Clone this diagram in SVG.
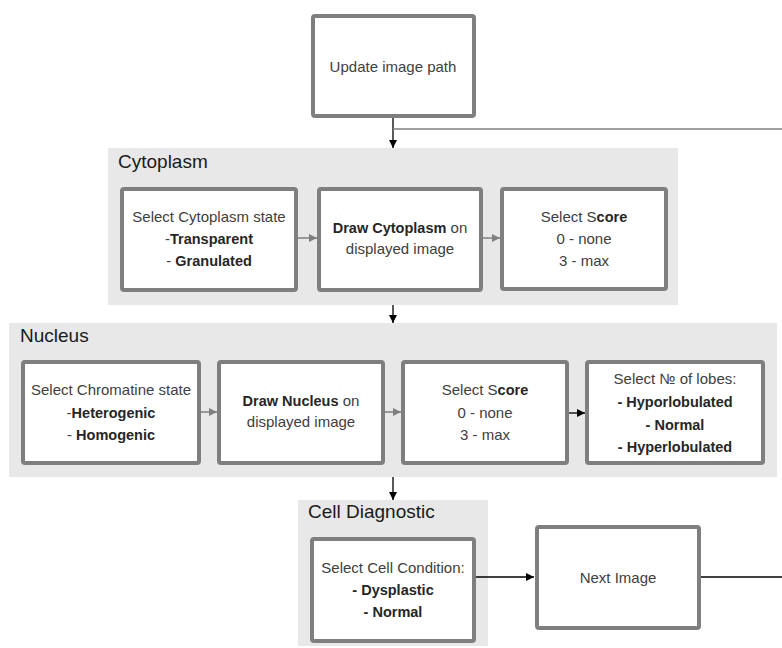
<svg xmlns="http://www.w3.org/2000/svg" width="782" height="648" viewBox="0 0 782 648">
<style>
.grp{fill:#e8e8e8;stroke:none}
.box{fill:#ffffff;stroke:#7f7f7f;stroke-width:4}
.t{font-family:"Liberation Sans",Arial,sans-serif;font-size:15px;fill:#404040;text-anchor:middle}
.b{font-weight:bold;fill:#262626;font-size:14.5px}
.lbl{font-family:"Liberation Sans",Arial,sans-serif;font-size:19px;fill:#1a1a1a}
.cb{stroke:#000;stroke-width:1.3;fill:none}
.cg{stroke:#7f7f7f;stroke-width:1.5;fill:none}
</style>
<defs>
<marker id="ab" viewBox="0 0 10 10" refX="10" refY="5" markerWidth="8" markerHeight="8" markerUnits="userSpaceOnUse" orient="auto"><path d="M0,0 L10,5 L0,10 z" fill="#000"/></marker>
<marker id="ag" viewBox="0 0 10 10" refX="10" refY="5" markerWidth="8" markerHeight="8" markerUnits="userSpaceOnUse" orient="auto"><path d="M0,0 L10,5 L0,10 z" fill="#7f7f7f"/></marker>
</defs>

<g id="group-cytoplasm">
<rect class="grp" x="108" y="148" width="570" height="157"/>
<text class="lbl" x="118" y="168">Cytoplasm</text>
</g>
<g id="group-nucleus">
<rect class="grp" x="9" y="323" width="768" height="154"/>
<text class="lbl" x="20" y="342">Nucleus</text>
</g>
<g id="group-cell">
<rect class="grp" x="298" y="500" width="190" height="146"/>
<text class="lbl" x="308" y="518">Cell Diagnostic</text>
</g>

<g id="connectors">
<line class="cb" x1="393" y1="117" x2="393" y2="148" marker-end="url(#ab)"/>
<line class="cg" x1="393" y1="129" x2="782" y2="129"/>
<line class="cg" x1="298" y1="238" x2="317" y2="238" marker-end="url(#ag)"/>
<line class="cg" x1="483" y1="238" x2="500" y2="238" marker-end="url(#ag)"/>
<line class="cb" x1="393" y1="305" x2="393" y2="323" marker-end="url(#ab)"/>
<line class="cg" x1="201" y1="412" x2="217" y2="412" marker-end="url(#ag)"/>
<line class="cg" x1="385" y1="412" x2="401" y2="412" marker-end="url(#ag)"/>
<line class="cb" x1="569" y1="413" x2="585" y2="413" marker-end="url(#ab)"/>
<line class="cb" x1="393" y1="477" x2="393" y2="500" marker-end="url(#ab)"/>
<line class="cb" x1="476" y1="577" x2="534" y2="577" marker-end="url(#ab)"/>
<line class="cb" x1="701" y1="577" x2="782" y2="577"/>
</g>

<g id="node-update">
<rect class="box" x="313" y="16" width="161" height="100" rx="2"/>
<text class="t" x="393" y="72">Update image path</text>
</g>

<g id="node-cyto-state">
<rect class="box" x="122" y="189" width="174" height="101" rx="2"/>
<text class="t" x="209" y="222">Select Cytoplasm state</text>
<text class="t" x="209" y="244">-<tspan class="b">Transparent</tspan></text>
<text class="t" x="209" y="266">- <tspan class="b">Granulated</tspan></text>
</g>
<g id="node-cyto-draw">
<rect class="box" x="319" y="189" width="162" height="101" rx="2"/>
<text class="t" x="400" y="233"><tspan class="b">Draw Cytoplasm</tspan> on</text>
<text class="t" x="400" y="254">displayed image</text>
</g>
<g id="node-cyto-score">
<rect class="box" x="502" y="189" width="164" height="100" rx="2"/>
<text class="t" x="584" y="222">Select S<tspan class="b">core</tspan></text>
<text class="t" x="584" y="244">0 - none</text>
<text class="t" x="584" y="266">3 - max</text>
</g>

<g id="node-chromatine">
<rect class="box" x="23" y="362" width="176" height="101" rx="2"/>
<text class="t" x="111" y="395">Select Chromatine state</text>
<text class="t" x="111" y="418">-<tspan class="b">Heterogenic</tspan></text>
<text class="t" x="111" y="440">- <tspan class="b">Homogenic</tspan></text>
</g>
<g id="node-nucleus-draw">
<rect class="box" x="219" y="362" width="164" height="101" rx="2"/>
<text class="t" x="301" y="406"><tspan class="b">Draw Nucleus</tspan> on</text>
<text class="t" x="301" y="427">displayed image</text>
</g>
<g id="node-nucleus-score">
<rect class="box" x="403" y="362" width="164" height="101" rx="2"/>
<text class="t" x="485" y="395">Select S<tspan class="b">core</tspan></text>
<text class="t" x="485" y="418">0 - none</text>
<text class="t" x="485" y="440">3 - max</text>
</g>
<g id="node-lobes">
<rect class="box" x="587" y="362" width="176" height="101" rx="2"/>
<text class="t" x="675" y="384">Select № of lobes:</text>
<text class="t b" x="675" y="407">- Hyporlobulated</text>
<text class="t b" x="675" y="430">- Normal</text>
<text class="t b" x="675" y="452">- Hyperlobulated</text>
</g>

<g id="node-cell-condition">
<rect class="box" x="312" y="539" width="162" height="102" rx="2"/>
<text class="t" x="393" y="573">Select Cell Condition:</text>
<text class="t b" x="393" y="595">- Dysplastic</text>
<text class="t b" x="393" y="617">- Normal</text>
</g>
<g id="node-next">
<rect class="box" x="537" y="527" width="162" height="101" rx="2"/>
<text class="t" x="618" y="583">Next Image</text>
</g>
</svg>
